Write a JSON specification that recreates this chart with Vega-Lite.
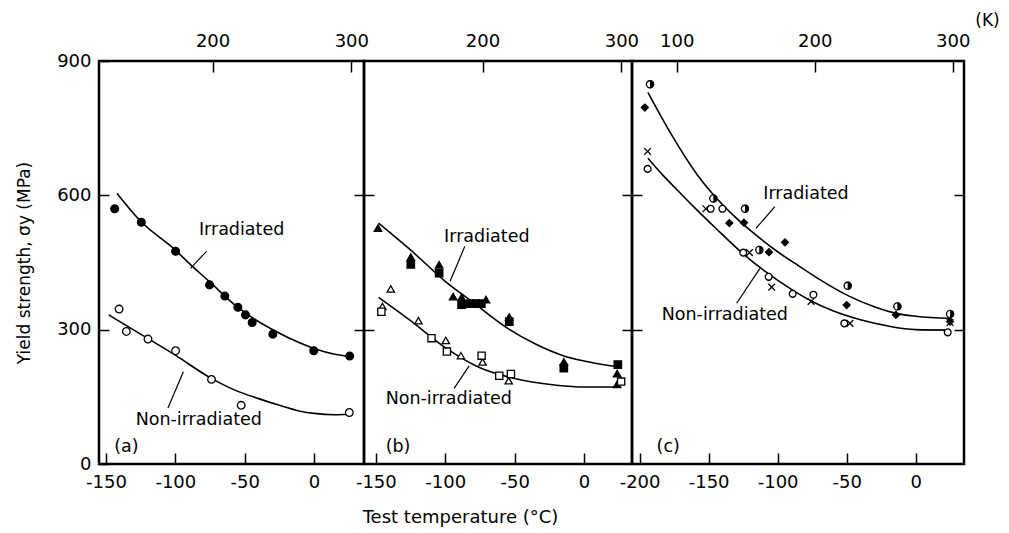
{
  "$schema": "https://vega.github.io/schema/vega-lite/v6.json",
  "padding": {"left": 13, "top": 9, "right": 5, "bottom": 5},
  "background": "white",
  "spacing": 0,
  "bounds": "flush",
  "config": {
    "view": {"stroke": "black", "strokeWidth": 2.5},
    "axis": {"domain": false, "grid": false, "labelFont": "DejaVu Sans", "labelFontSize": 18, "labelColor": "black", "tickColor": "black", "tickWidth": 1.5, "labelFlush": false, "labelOverlap": false, "titleFont": "DejaVu Sans", "titleFontWeight": "normal", "titleColor": "black", "titleFontSize": 18},
    "text": {"font": "DejaVu Sans", "fontSize": 17.5, "color": "black"}
  },
  "datasets": {
    "points": [
      {"panel": "a", "series": "irr_circle", "T": -143.7, "sigma": 570},
      {"panel": "a", "series": "irr_circle", "T": -124.5, "sigma": 540},
      {"panel": "a", "series": "irr_circle", "T": -99.8, "sigma": 475},
      {"panel": "a", "series": "irr_circle", "T": -75.3, "sigma": 400},
      {"panel": "a", "series": "irr_circle", "T": -64.3, "sigma": 375},
      {"panel": "a", "series": "irr_circle", "T": -54.9, "sigma": 350},
      {"panel": "a", "series": "irr_circle", "T": -49.4, "sigma": 333},
      {"panel": "a", "series": "irr_circle", "T": -44.6, "sigma": 316},
      {"panel": "a", "series": "irr_circle", "T": -29.7, "sigma": 290},
      {"panel": "a", "series": "irr_circle", "T": -0.2, "sigma": 253},
      {"panel": "a", "series": "irr_circle", "T": 25.7, "sigma": 241},
      {"panel": "a", "series": "non_circle", "T": -140.5, "sigma": 346},
      {"panel": "a", "series": "non_circle", "T": -135.3, "sigma": 296},
      {"panel": "a", "series": "non_circle", "T": -119.7, "sigma": 279},
      {"panel": "a", "series": "non_circle", "T": -99.8, "sigma": 253},
      {"panel": "a", "series": "non_circle", "T": -73.9, "sigma": 189},
      {"panel": "a", "series": "non_circle", "T": -52.5, "sigma": 131},
      {"panel": "a", "series": "non_circle", "T": 25.4, "sigma": 115},
      {"panel": "b", "series": "irr_tri", "T": -148.4, "sigma": 527},
      {"panel": "b", "series": "irr_tri", "T": -124.8, "sigma": 462},
      {"panel": "b", "series": "irr_tri", "T": -104.4, "sigma": 445},
      {"panel": "b", "series": "irr_tri", "T": -94.3, "sigma": 374},
      {"panel": "b", "series": "irr_tri", "T": -88.2, "sigma": 372},
      {"panel": "b", "series": "irr_tri", "T": -70.7, "sigma": 367},
      {"panel": "b", "series": "irr_tri", "T": -53.9, "sigma": 328},
      {"panel": "b", "series": "irr_tri", "T": -14.6, "sigma": 228},
      {"panel": "b", "series": "irr_tri", "T": 23.8, "sigma": 202},
      {"panel": "b", "series": "irr_tri", "T": 23.8, "sigma": 178},
      {"panel": "b", "series": "irr_sq", "T": -124.8, "sigma": 446},
      {"panel": "b", "series": "irr_sq", "T": -104.4, "sigma": 426},
      {"panel": "b", "series": "irr_sq", "T": -88.2, "sigma": 356},
      {"panel": "b", "series": "irr_sq", "T": -82, "sigma": 358},
      {"panel": "b", "series": "irr_sq", "T": -78, "sigma": 358},
      {"panel": "b", "series": "irr_sq", "T": -74, "sigma": 358},
      {"panel": "b", "series": "irr_sq", "T": -53.9, "sigma": 318},
      {"panel": "b", "series": "irr_sq", "T": -14.6, "sigma": 214},
      {"panel": "b", "series": "irr_sq", "T": 24.3, "sigma": 222},
      {"panel": "b", "series": "non_tri", "T": -139.2, "sigma": 391},
      {"panel": "b", "series": "non_tri", "T": -145.2, "sigma": 352},
      {"panel": "b", "series": "non_tri", "T": -119.3, "sigma": 320},
      {"panel": "b", "series": "non_tri", "T": -99.6, "sigma": 276},
      {"panel": "b", "series": "non_tri", "T": -88.7, "sigma": 242},
      {"panel": "b", "series": "non_tri", "T": -73.1, "sigma": 228},
      {"panel": "b", "series": "non_tri", "T": -54.3, "sigma": 186},
      {"panel": "b", "series": "non_sq", "T": -146, "sigma": 340},
      {"panel": "b", "series": "non_sq", "T": -109.9, "sigma": 281},
      {"panel": "b", "series": "non_sq", "T": -98.8, "sigma": 251},
      {"panel": "b", "series": "non_sq", "T": -73.8, "sigma": 242},
      {"panel": "b", "series": "non_sq", "T": -61.1, "sigma": 197},
      {"panel": "b", "series": "non_sq", "T": -52.7, "sigma": 201},
      {"panel": "b", "series": "non_sq", "T": 26.7, "sigma": 184},
      {"panel": "c", "series": "irr_half", "T": -192.5, "sigma": 848},
      {"panel": "c", "series": "irr_half", "T": -146.6, "sigma": 593},
      {"panel": "c", "series": "irr_half", "T": -123.7, "sigma": 570},
      {"panel": "c", "series": "irr_half", "T": -113.3, "sigma": 478},
      {"panel": "c", "series": "irr_half", "T": -49.3, "sigma": 398},
      {"panel": "c", "series": "irr_half", "T": -13.3, "sigma": 352},
      {"panel": "c", "series": "irr_half", "T": 24.9, "sigma": 335},
      {"panel": "c", "series": "irr_diamond", "T": -196.2, "sigma": 796},
      {"panel": "c", "series": "irr_diamond", "T": -135, "sigma": 538},
      {"panel": "c", "series": "irr_diamond", "T": -124.4, "sigma": 539},
      {"panel": "c", "series": "irr_diamond", "T": -106.3, "sigma": 473},
      {"panel": "c", "series": "irr_diamond", "T": -94.7, "sigma": 495},
      {"panel": "c", "series": "irr_diamond", "T": -50, "sigma": 355},
      {"panel": "c", "series": "irr_diamond", "T": -14.3, "sigma": 333},
      {"panel": "c", "series": "irr_diamond", "T": 24.9, "sigma": 318},
      {"panel": "c", "series": "non_small", "T": -194.2, "sigma": 659},
      {"panel": "c", "series": "non_small", "T": -148.5, "sigma": 570},
      {"panel": "c", "series": "non_small", "T": -140, "sigma": 570},
      {"panel": "c", "series": "non_small", "T": -124.9, "sigma": 472},
      {"panel": "c", "series": "non_small", "T": -106.5, "sigma": 418},
      {"panel": "c", "series": "non_small", "T": -89.1, "sigma": 380},
      {"panel": "c", "series": "non_small", "T": -74.1, "sigma": 378},
      {"panel": "c", "series": "non_small", "T": -51.7, "sigma": 314},
      {"panel": "c", "series": "non_small", "T": 23.2, "sigma": 294},
      {"panel": "c", "series": "non_x", "T": -194.2, "sigma": 698},
      {"panel": "c", "series": "non_x", "T": -152, "sigma": 570},
      {"panel": "c", "series": "non_x", "T": -120.4, "sigma": 472},
      {"panel": "c", "series": "non_x", "T": -104.3, "sigma": 395},
      {"panel": "c", "series": "non_x", "T": -75.8, "sigma": 363},
      {"panel": "c", "series": "non_x", "T": -47.6, "sigma": 314},
      {"panel": "c", "series": "non_x", "T": 24.9, "sigma": 316}
    ],
    "curves": [
      {"panel": "a", "curve": "irr", "T": -142, "sigma": 604},
      {"panel": "a", "curve": "irr", "T": -125, "sigma": 542},
      {"panel": "a", "curve": "irr", "T": -100, "sigma": 478},
      {"panel": "a", "curve": "irr", "T": -90, "sigma": 448},
      {"panel": "a", "curve": "irr", "T": -75, "sigma": 406},
      {"panel": "a", "curve": "irr", "T": -57, "sigma": 355},
      {"panel": "a", "curve": "irr", "T": -45, "sigma": 328},
      {"panel": "a", "curve": "irr", "T": -28, "sigma": 297},
      {"panel": "a", "curve": "irr", "T": -10, "sigma": 270},
      {"panel": "a", "curve": "irr", "T": 0, "sigma": 258},
      {"panel": "a", "curve": "irr", "T": 15, "sigma": 245},
      {"panel": "a", "curve": "irr", "T": 26, "sigma": 240},
      {"panel": "a", "curve": "non", "T": -148, "sigma": 333},
      {"panel": "a", "curve": "non", "T": -125, "sigma": 290},
      {"panel": "a", "curve": "non", "T": -100, "sigma": 243},
      {"panel": "a", "curve": "non", "T": -75, "sigma": 193},
      {"panel": "a", "curve": "non", "T": -57, "sigma": 165},
      {"panel": "a", "curve": "non", "T": -40, "sigma": 146},
      {"panel": "a", "curve": "non", "T": -25, "sigma": 131},
      {"panel": "a", "curve": "non", "T": -10, "sigma": 118},
      {"panel": "a", "curve": "non", "T": 0, "sigma": 113},
      {"panel": "a", "curve": "non", "T": 15, "sigma": 110},
      {"panel": "a", "curve": "non", "T": 25, "sigma": 111},
      {"panel": "b", "curve": "irr", "T": -148, "sigma": 538},
      {"panel": "b", "curve": "irr", "T": -125, "sigma": 478},
      {"panel": "b", "curve": "irr", "T": -100, "sigma": 408},
      {"panel": "b", "curve": "irr", "T": -80, "sigma": 361},
      {"panel": "b", "curve": "irr", "T": -55, "sigma": 303},
      {"panel": "b", "curve": "irr", "T": -35, "sigma": 268},
      {"panel": "b", "curve": "irr", "T": -15, "sigma": 242},
      {"panel": "b", "curve": "irr", "T": 0, "sigma": 230},
      {"panel": "b", "curve": "irr", "T": 24, "sigma": 217},
      {"panel": "b", "curve": "non", "T": -148, "sigma": 372},
      {"panel": "b", "curve": "non", "T": -125, "sigma": 320},
      {"panel": "b", "curve": "non", "T": -100, "sigma": 260},
      {"panel": "b", "curve": "non", "T": -75, "sigma": 215},
      {"panel": "b", "curve": "non", "T": -50, "sigma": 191},
      {"panel": "b", "curve": "non", "T": -20, "sigma": 176},
      {"panel": "b", "curve": "non", "T": 0, "sigma": 172},
      {"panel": "b", "curve": "non", "T": 24, "sigma": 172},
      {"panel": "c", "curve": "irr", "T": -194, "sigma": 830},
      {"panel": "c", "curve": "irr", "T": -177, "sigma": 736},
      {"panel": "c", "curve": "irr", "T": -158, "sigma": 645},
      {"panel": "c", "curve": "irr", "T": -147, "sigma": 603},
      {"panel": "c", "curve": "irr", "T": -133, "sigma": 558},
      {"panel": "c", "curve": "irr", "T": -116, "sigma": 512},
      {"panel": "c", "curve": "irr", "T": -100, "sigma": 474},
      {"panel": "c", "curve": "irr", "T": -85, "sigma": 443},
      {"panel": "c", "curve": "irr", "T": -70, "sigma": 413},
      {"panel": "c", "curve": "irr", "T": -49, "sigma": 376},
      {"panel": "c", "curve": "irr", "T": -30, "sigma": 351},
      {"panel": "c", "curve": "irr", "T": -15, "sigma": 337},
      {"panel": "c", "curve": "irr", "T": 0, "sigma": 330},
      {"panel": "c", "curve": "irr", "T": 26, "sigma": 325},
      {"panel": "c", "curve": "non", "T": -194, "sigma": 683},
      {"panel": "c", "curve": "non", "T": -184, "sigma": 648},
      {"panel": "c", "curve": "non", "T": -174, "sigma": 616},
      {"panel": "c", "curve": "non", "T": -160, "sigma": 572},
      {"panel": "c", "curve": "non", "T": -145, "sigma": 527},
      {"panel": "c", "curve": "non", "T": -126, "sigma": 472},
      {"panel": "c", "curve": "non", "T": -109, "sigma": 430},
      {"panel": "c", "curve": "non", "T": -90, "sigma": 390},
      {"panel": "c", "curve": "non", "T": -78, "sigma": 368},
      {"panel": "c", "curve": "non", "T": -60, "sigma": 342},
      {"panel": "c", "curve": "non", "T": -40, "sigma": 322},
      {"panel": "c", "curve": "non", "T": -20, "sigma": 308},
      {"panel": "c", "curve": "non", "T": 0, "sigma": 300},
      {"panel": "c", "curve": "non", "T": 24, "sigma": 299}
    ],
    "labels": [
      {"panel": "a", "text": "Irradiated", "T": -83, "sigma": 523},
      {"panel": "a", "text": "Non-irradiated", "T": -128.6, "sigma": 98},
      {"panel": "a", "text": "(a)", "T": -144, "sigma": 38},
      {"panel": "b", "text": "Irradiated", "T": -100.8, "sigma": 508},
      {"panel": "b", "text": "Non-irradiated", "T": -142.9, "sigma": 146},
      {"panel": "b", "text": "(b)", "T": -142.9, "sigma": 38},
      {"panel": "c", "text": "Irradiated", "T": -110.4, "sigma": 603},
      {"panel": "c", "text": "Non-irradiated", "T": -184, "sigma": 333},
      {"panel": "c", "text": "(c)", "T": -187.7, "sigma": 38}
    ],
    "arrows": [
      {"panel": "a", "T": -77.5, "sigma": 475, "T2": -89, "sigma2": 437},
      {"panel": "a", "T": -105.3, "sigma": 125, "T2": -94.2, "sigma2": 206},
      {"panel": "b", "T": -85.9, "sigma": 486, "T2": -96.5, "sigma2": 408},
      {"panel": "b", "T": -93.6, "sigma": 169, "T2": -82.8, "sigma2": 219},
      {"panel": "c", "T": -102, "sigma": 575, "T2": -115.7, "sigma2": 526},
      {"panel": "c", "T": -129.7, "sigma": 359, "T2": -112.8, "sigma2": 437}
    ]
  },
  "hconcat": [
    {
      "width": 265, "height": 403,
      "resolve": {"axis": {"x": "independent", "y": "independent"}},
      "layer": [
        {
          "data": {"name": "curves"},
          "transform": [{"filter": "datum.panel == 'a'"}],
          "mark": {"type": "line", "color": "black", "strokeWidth": 1.6, "interpolate": "monotone"},
          "encoding": {
            "x": {"field": "T", "type": "quantitative", "scale": {"domain": [-155, 36], "nice": false, "zero": false},
                  "axis": {"orient": "bottom", "values": [-150, -100, -50, 0], "tickSize": -11, "labelPadding": 20, "title": null, "labelExpr": "datum.value < 0 ? '-' + (-datum.value) : '' + datum.value"}},
            "y": {"field": "sigma", "type": "quantitative", "scale": {"domain": [0, 900], "nice": false, "zero": false},
                  "axis": {"orient": "left", "values": [0, 300, 600, 900], "tickSize": -10, "labelPadding": 18, "title": "Yield strength, σy (MPa)", "titleX": -75, "titleY": 201.5, "titleAngle": -90, "titleBaseline": "middle", "titleAlign": "center", "titleFontSize": 17}},
            "detail": {"field": "curve"}
          }
        },
        {
          "data": {"name": "points"},
          "transform": [{"filter": "datum.panel == 'a'"}],
          "mark": {"type": "point", "filled": true, "stroke": "black", "strokeWidth": 1.3, "opacity": 1},
          "encoding": {
            "x": {"field": "T", "type": "quantitative", "scale": {"domain": [-155, 36], "nice": false, "zero": false},
                  "axis": {"orient": "top", "values": [-73.15, 26.85], "tickSize": -11, "labelPadding": 22, "title": null, "labelExpr": "format(datum.value + 273.15, 'd')"}},
            "y": {"field": "sigma", "type": "quantitative", "scale": {"domain": [0, 900], "nice": false, "zero": false},
                  "axis": {"orient": "right", "values": [300, 600], "tickSize": -10, "labels": false, "title": null}},
            "shape": {"field": "series", "type": "nominal", "legend": null, "scale": {"domain": ["irr_circle", "non_circle", "irr_tri", "irr_sq", "non_tri", "non_sq", "irr_half", "irr_diamond", "non_small", "non_x"], "range": ["circle", "circle", "triangle-up", "square", "triangle-up", "square", "circle", "diamond", "circle", "M-1,-1L1,1M-1,1L1,-1"]}},
            "fill": {"field": "series", "type": "nominal", "legend": null, "scale": {"domain": ["irr_circle", "non_circle", "irr_tri", "irr_sq", "non_tri", "non_sq", "irr_half", "irr_diamond", "non_small", "non_x"], "range": ["black", "white", "black", "black", "white", "white", "white", "black", "white", "white"]}},
            "size": {"field": "series", "type": "nominal", "legend": null, "scale": {"domain": ["irr_circle", "non_circle", "irr_tri", "irr_sq", "non_tri", "non_sq", "irr_half", "irr_diamond", "non_small", "non_x"], "range": [60, 45, 70, 45, 55, 45, 70, 40, 22, 30]}}
          }
        },
        {
          "data": {"name": "arrows"},
          "transform": [{"filter": "datum.panel == 'a'"}],
          "mark": {"type": "rule", "color": "black", "strokeWidth": 1.2},
          "encoding": {
            "x": {"field": "T", "type": "quantitative", "scale": {"domain": [-155, 36], "nice": false, "zero": false}, "axis": null},
            "y": {"field": "sigma", "type": "quantitative", "scale": {"domain": [0, 900], "nice": false, "zero": false}, "axis": null},
            "x2": {"field": "T2"},
            "y2": {"field": "sigma2"}
          }
        },
        {
          "data": {"name": "labels"},
          "transform": [{"filter": "datum.panel == 'a'"}],
          "mark": {"type": "text", "align": "left", "baseline": "middle"},
          "encoding": {
            "x": {"field": "T", "type": "quantitative", "scale": {"domain": [-155, 36], "nice": false, "zero": false}, "axis": null},
            "y": {"field": "sigma", "type": "quantitative", "scale": {"domain": [0, 900], "nice": false, "zero": false}, "axis": null},
            "text": {"field": "text"}
          }
        }
      ]
    },
    {
      "width": 268, "height": 403,
      "resolve": {"axis": {"x": "independent", "y": "independent"}},
      "layer": [
        {
          "data": {"name": "curves"},
          "transform": [{"filter": "datum.panel == 'b'"}],
          "mark": {"type": "line", "color": "black", "strokeWidth": 1.6, "interpolate": "monotone"},
          "encoding": {
            "x": {"field": "T", "type": "quantitative", "scale": {"domain": [-158.5, 34.5], "nice": false, "zero": false},
                  "axis": {"orient": "bottom", "values": [-150, -100, -50, 0], "tickSize": -11, "labelPadding": 20, "title": "Test  temperature (°C)", "titleX": 96, "titleY": 53, "titleAngle": 0, "titleBaseline": "middle", "titleAlign": "center", "titleFontSize": 18, "labelExpr": "datum.value < 0 ? '-' + (-datum.value) : '' + datum.value"}},
            "y": {"field": "sigma", "type": "quantitative", "scale": {"domain": [0, 900], "nice": false, "zero": false},
                  "axis": {"orient": "left", "values": [300, 600], "tickSize": -10, "labels": false, "title": null}},
            "detail": {"field": "curve"}
          }
        },
        {
          "data": {"name": "points"},
          "transform": [{"filter": "datum.panel == 'b'"}],
          "mark": {"type": "point", "filled": true, "stroke": "black", "strokeWidth": 1.3, "opacity": 1},
          "encoding": {
            "x": {"field": "T", "type": "quantitative", "scale": {"domain": [-158.5, 34.5], "nice": false, "zero": false},
                  "axis": {"orient": "top", "values": [-73.15, 26.85], "tickSize": -11, "labelPadding": 22, "title": null, "labelExpr": "format(datum.value + 273.15, 'd')"}},
            "y": {"field": "sigma", "type": "quantitative", "scale": {"domain": [0, 900], "nice": false, "zero": false},
                  "axis": {"orient": "right", "values": [300, 600], "tickSize": -10, "labels": false, "title": null}},
            "shape": {"field": "series", "type": "nominal", "legend": null, "scale": {"domain": ["irr_circle", "non_circle", "irr_tri", "irr_sq", "non_tri", "non_sq", "irr_half", "irr_diamond", "non_small", "non_x"], "range": ["circle", "circle", "triangle-up", "square", "triangle-up", "square", "circle", "diamond", "circle", "M-1,-1L1,1M-1,1L1,-1"]}},
            "fill": {"field": "series", "type": "nominal", "legend": null, "scale": {"domain": ["irr_circle", "non_circle", "irr_tri", "irr_sq", "non_tri", "non_sq", "irr_half", "irr_diamond", "non_small", "non_x"], "range": ["black", "white", "black", "black", "white", "white", "white", "black", "white", "white"]}},
            "size": {"field": "series", "type": "nominal", "legend": null, "scale": {"domain": ["irr_circle", "non_circle", "irr_tri", "irr_sq", "non_tri", "non_sq", "irr_half", "irr_diamond", "non_small", "non_x"], "range": [60, 45, 70, 45, 55, 45, 70, 40, 22, 30]}}
          }
        },
        {
          "data": {"name": "arrows"},
          "transform": [{"filter": "datum.panel == 'b'"}],
          "mark": {"type": "rule", "color": "black", "strokeWidth": 1.2},
          "encoding": {
            "x": {"field": "T", "type": "quantitative", "scale": {"domain": [-158.5, 34.5], "nice": false, "zero": false}, "axis": null},
            "y": {"field": "sigma", "type": "quantitative", "scale": {"domain": [0, 900], "nice": false, "zero": false}, "axis": null},
            "x2": {"field": "T2"},
            "y2": {"field": "sigma2"}
          }
        },
        {
          "data": {"name": "labels"},
          "transform": [{"filter": "datum.panel == 'b'"}],
          "mark": {"type": "text", "align": "left", "baseline": "middle"},
          "encoding": {
            "x": {"field": "T", "type": "quantitative", "scale": {"domain": [-158.5, 34.5], "nice": false, "zero": false}, "axis": null},
            "y": {"field": "sigma", "type": "quantitative", "scale": {"domain": [0, 900], "nice": false, "zero": false}, "axis": null},
            "text": {"field": "text"}
          }
        }
      ]
    },
    {
      "width": 332, "height": 403,
      "resolve": {"axis": {"x": "independent", "y": "independent"}},
      "layer": [
        {
          "data": {"name": "curves"},
          "transform": [{"filter": "datum.panel == 'c'"}],
          "mark": {"type": "line", "color": "black", "strokeWidth": 1.6, "interpolate": "monotone"},
          "encoding": {
            "x": {"field": "T", "type": "quantitative", "scale": {"domain": [-205.5, 35], "nice": false, "zero": false},
                  "axis": {"orient": "bottom", "values": [-200, -150, -100, -50, 0], "tickSize": -11, "labelPadding": 20, "title": null, "labelExpr": "datum.value < 0 ? '-' + (-datum.value) : '' + datum.value"}},
            "y": {"field": "sigma", "type": "quantitative", "scale": {"domain": [0, 900], "nice": false, "zero": false},
                  "axis": {"orient": "left", "values": [300, 600], "tickSize": -10, "labels": false, "title": null}},
            "detail": {"field": "curve"}
          }
        },
        {
          "data": {"name": "points"},
          "transform": [{"filter": "datum.panel == 'c'"}],
          "mark": {"type": "point", "filled": true, "stroke": "black", "strokeWidth": 1.3, "opacity": 1},
          "encoding": {
            "x": {"field": "T", "type": "quantitative", "scale": {"domain": [-205.5, 35], "nice": false, "zero": false},
                  "axis": {"orient": "top", "values": [-173.15, -73.15, 26.85], "tickSize": -11, "labelPadding": 22, "title": "(K)", "titleX": 355, "titleY": -41, "titleAngle": 0, "titleBaseline": "middle", "titleAlign": "center", "titleFontSize": 17, "labelExpr": "format(datum.value + 273.15, 'd')"}},
            "y": {"field": "sigma", "type": "quantitative", "scale": {"domain": [0, 900], "nice": false, "zero": false},
                  "axis": {"orient": "right", "values": [300, 600], "tickSize": -10, "labels": false, "title": null}},
            "shape": {"field": "series", "type": "nominal", "legend": null, "scale": {"domain": ["irr_circle", "non_circle", "irr_tri", "irr_sq", "non_tri", "non_sq", "irr_half", "irr_diamond", "non_small", "non_x"], "range": ["circle", "circle", "triangle-up", "square", "triangle-up", "square", "circle", "diamond", "circle", "M-1,-1L1,1M-1,1L1,-1"]}},
            "fill": {"field": "series", "type": "nominal", "legend": null, "scale": {"domain": ["irr_circle", "non_circle", "irr_tri", "irr_sq", "non_tri", "non_sq", "irr_half", "irr_diamond", "non_small", "non_x"], "range": ["black", "white", "black", "black", "white", "white", "white", "black", "white", "white"]}},
            "size": {"field": "series", "type": "nominal", "legend": null, "scale": {"domain": ["irr_circle", "non_circle", "irr_tri", "irr_sq", "non_tri", "non_sq", "irr_half", "irr_diamond", "non_small", "non_x"], "range": [60, 45, 70, 45, 55, 45, 70, 40, 22, 30]}}
          }
        },
        {
          "data": {"name": "points"},
          "transform": [{"filter": "datum.series == 'irr_half'"}],
          "mark": {"type": "point", "filled": true, "fill": "black", "strokeWidth": 0, "opacity": 1, "shape": "M0,-1A1,1 0 0,1 0,1Z", "size": 70},
          "encoding": {
            "x": {"field": "T", "type": "quantitative", "scale": {"domain": [-205.5, 35], "nice": false, "zero": false}, "axis": null},
            "y": {"field": "sigma", "type": "quantitative", "scale": {"domain": [0, 900], "nice": false, "zero": false}, "axis": null}
          }
        },
        {
          "data": {"name": "arrows"},
          "transform": [{"filter": "datum.panel == 'c'"}],
          "mark": {"type": "rule", "color": "black", "strokeWidth": 1.2},
          "encoding": {
            "x": {"field": "T", "type": "quantitative", "scale": {"domain": [-205.5, 35], "nice": false, "zero": false}, "axis": null},
            "y": {"field": "sigma", "type": "quantitative", "scale": {"domain": [0, 900], "nice": false, "zero": false}, "axis": null},
            "x2": {"field": "T2"},
            "y2": {"field": "sigma2"}
          }
        },
        {
          "data": {"name": "labels"},
          "transform": [{"filter": "datum.panel == 'c'"}],
          "mark": {"type": "text", "align": "left", "baseline": "middle"},
          "encoding": {
            "x": {"field": "T", "type": "quantitative", "scale": {"domain": [-205.5, 35], "nice": false, "zero": false}, "axis": null},
            "y": {"field": "sigma", "type": "quantitative", "scale": {"domain": [0, 900], "nice": false, "zero": false}, "axis": null},
            "text": {"field": "text"}
          }
        }
      ]
    }
  ]
}
